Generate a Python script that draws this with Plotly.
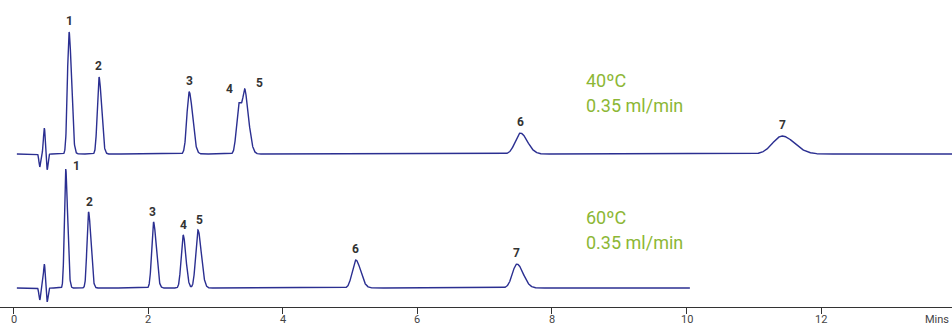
import numpy as np
import plotly.graph_objects as go

# ---- Peak tables (time in min, height in arbitrary units) ----
# 40 C run
top_rt     = [0.39, 0.458, 0.50, 0.825, 1.27, 2.61, 3.35, 3.445, 7.53, 11.42]
top_height = [-13, 26, -16, 122, 77, 62, 51, 43, 21, 18]
top_sigma  = [0.012, 0.013, 0.012, 0.024, 0.025, 0.034, 0.035, 0.03, 0.075, 0.14]
top_tail   = [1.0, 1.0, 1.0, 1.5, 1.5, 1.5, 2.0, 1.9, 1.4, 1.3]
top_labels = ["1", "2", "3", "4", "5", "6", "7"]
top_label_x = [0.825, 1.27, 2.61, 3.21, 3.66, 7.53, 11.42]
top_label_h = [122, 77, 62, 54, 60, 21, 18]

# 60 C run
bot_rt     = [0.39, 0.458, 0.50, 0.775, 1.115, 2.08, 2.52, 2.74, 5.085, 7.48]
bot_height = [-12, 24, -14, 119, 76, 66, 53, 58, 28, 24]
bot_sigma  = [0.012, 0.013, 0.012, 0.019, 0.023, 0.027, 0.029, 0.033, 0.052, 0.066]
bot_tail   = [1.0, 1.0, 1.0, 1.5, 1.5, 1.5, 1.4, 1.5, 1.4, 1.4]
bot_labels = ["1", "2", "3", "4", "5", "6", "7"]
bot_label_x = [0.94, 1.13, 2.06, 2.52, 2.76, 5.085, 7.48]
bot_label_h = [111, 75, 65, 52, 57, 28, 24]

top_end = 13.95
bot_end = 10.05
x_ticks = [0, 2, 4, 6, 8, 10, 12]
x_tick_labels = ["0", "2", "4", "6", "8", "10", "12"]

TOP_BASE = 153
BOT_BASE = 19
LINE = "#2b2f91"
GREEN = "#8cb735"
FONT = "Roboto, Liberation Sans, sans-serif"


def chromatogram(t, rts, hs, ss, tails):
    y = np.zeros_like(t)
    for rt, h, s, k in zip(rts, hs, ss, tails):
        sig = np.where(t < rt, s, s * k)
        y += h * np.exp(-0.5 * ((t - rt) / sig) ** 2)
    return y


t_top = np.linspace(0.05, top_end, 6000)
t_bot = np.linspace(0.05, bot_end, 5000)
y_top = chromatogram(t_top, top_rt, top_height, top_sigma, top_tail) + TOP_BASE
y_bot = chromatogram(t_bot, bot_rt, bot_height, bot_sigma, bot_tail) + BOT_BASE

fig = go.Figure()
fig.add_trace(go.Scatter(x=t_top, y=y_top, mode="lines",
                         line=dict(color=LINE, width=1.4), hoverinfo="skip"))
fig.add_trace(go.Scatter(x=t_bot, y=y_bot, mode="lines",
                         line=dict(color=LINE, width=1.4), hoverinfo="skip"))

ann = []
for lab, lx, lh in zip(top_labels, top_label_x, top_label_h):
    ann.append(dict(x=lx, y=TOP_BASE + lh + 11, text=f"<b>{lab}</b>", showarrow=False,
                    font=dict(family=FONT, size=12, color="#333")))
for lab, lx, lh in zip(bot_labels, bot_label_x, bot_label_h):
    ann.append(dict(x=lx, y=BOT_BASE + lh + 11, text=f"<b>{lab}</b>", showarrow=False,
                    font=dict(family=FONT, size=12, color="#333")))

for txt, yy in [("40ºC", 227), ("0.35 ml/min", 202), ("60ºC", 90), ("0.35 ml/min", 65)]:
    ann.append(dict(x=8.47, y=yy, text=txt, showarrow=False, xanchor="left",
                    font=dict(family=FONT, size=18, color=GREEN)))

# tick labels placed just under the tick marks
for v, s in zip(x_ticks, x_tick_labels):
    ann.append(dict(x=v, xref="x", y=-12 / 307, yref="paper", yanchor="middle",
                    text=s, showarrow=False, xanchor="center",
                    font=dict(family=FONT, size=11, color="#444")))

ann.append(dict(x=13.935, xref="x", y=-12 / 307, yref="paper", yanchor="middle",
                text="Mins", showarrow=False, xanchor="right",
                font=dict(family=FONT, size=11, color="#444")))

fig.update_layout(
    width=952, height=325,
    margin=dict(l=0, r=0, t=0, b=18, autoexpand=False),
    paper_bgcolor="white", plot_bgcolor="white",
    showlegend=False,
    annotations=ann,
    xaxis=dict(range=[-0.2006, 13.945], showline=True, linecolor="#333", linewidth=1,
               ticks="outside", ticklen=6, tickcolor="#333", tickwidth=1,
               tickvals=x_ticks, showticklabels=False,
               showgrid=False, zeroline=False, fixedrange=True, automargin=False),
    yaxis=dict(range=[0, 307], visible=False, fixedrange=True, automargin=False),
)

fig.write_html("out.html", config={"displayModeBar": False},
               post_script="document.body.style.margin='0';document.body.style.overflow='hidden';")
